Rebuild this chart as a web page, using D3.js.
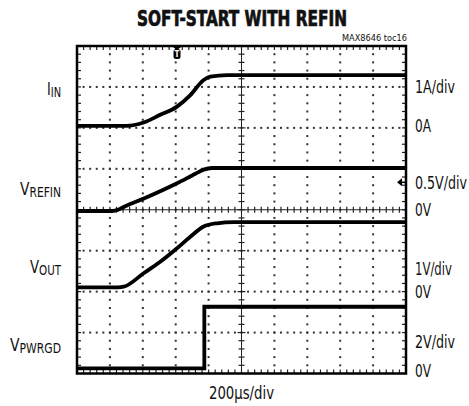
<!DOCTYPE html>
<html>
<head>
<meta charset="utf-8">
<script src="https://cdn.jsdelivr.net/npm/d3@7"></script>
<style>
  body { margin: 0; background: #fff; }
  text { font-family: "Liberation Sans Narrow", "Arial Narrow", "DejaVu Sans Condensed", sans-serif; fill: #111; }
</style>
</head>
<body>
<div id="scope"></div>
<script>
// scope settings: 200us/div, 10 x 8 divisions
var timePerDiv = 200;
var xDivs = 10, yDivs = 8;

// channel settings (units/div, ground position in divs from centre)
var channels = ["IIN", "VREFIN", "VOUT", "VPWRGD"];
var perDiv = [1, 0.5, 1, 2];
var groundDiv = [2, 0, -2, -4];
var scaleLabels = ["1A/div", "0.5V/div", "1V/div", "2V/div"];
var groundLabels = ["0A", "0V", "0V", "0V"];

// traces (time in us, value in channel units)
var iinT = [0, 300, 405, 506, 608, 689, 770, 810, 912, 2000];
var iinV = [0.05, 0.05, 0.13, 0.32, 0.52, 0.80, 1.17, 1.25, 1.29, 1.29];

var refT = [0, 215, 250, 290, 410, 605, 720, 770, 820, 2000];
var refV = [-0.015, -0.015, 0.0, 0.04, 0.14, 0.32, 0.44, 0.49, 0.51, 0.51];

var outT = [0, 249, 284, 405, 506, 608, 689, 770, 851, 953, 2000];
var outV = [0.105, 0.105, 0.12, 0.45, 0.73, 1.06, 1.34, 1.59, 1.67, 1.70, 1.70];

var pgT = [0, 774, 774, 2000];
var pgV = [0.25, 0.25, 3.26, 3.26];

var triggerT = 608;

var W = 469, H = 406;
var gLeft = 77, gRight = 406, gTop = 46, gBottom = 373.5;

var svg = d3.select("#scope").append("svg")
    .attr("width", W)
    .attr("height", H);

var x = d3.scaleLinear().domain([0, xDivs * timePerDiv]).range([gLeft, gRight]);
var y = d3.scaleLinear().domain([-yDivs / 2, yDivs / 2]).range([gBottom, gTop]);

var divW = (gRight - gLeft) / xDivs, divH = (gBottom - gTop) / yDivs;

// squeeze DejaVu Condensed down to the narrow Helvetica widths of the original
// (horizontal scale about the text's anchor x)
function fit(sel, w) {
    var ax = +sel.attr("x");
    var s = w / sel.node().getComputedTextLength();
    return sel.attr("transform", "translate(" + ax + ",0) scale(" + s + ",1) translate(" + (-ax) + ",0)");
}

// dotted grid
var grid = svg.append("g");
for (var i = 1; i < xDivs; i++) {
    if (i === xDivs / 2) continue;
    for (var j = 1; j < yDivs * 5; j++) {
        grid.append("rect")
            .attr("x", gLeft + i * divW - 1)
            .attr("y", gTop + j * divH / 5 - 1)
            .attr("width", 2).attr("height", 2)
            .attr("fill", "#333");
    }
}
for (var j = 1; j < yDivs; j++) {
    if (j === yDivs / 2) continue;
    for (var i = 1; i < xDivs * 5; i++) {
        grid.append("rect")
            .attr("x", gLeft + i * divW / 5 - 1)
            .attr("y", gTop + j * divH - 1)
            .attr("width", 2).attr("height", 2)
            .attr("fill", "#333");
    }
}

// centre crosshair with minor ticks
var cx = gLeft + divW * xDivs / 2, cy = gTop + divH * yDivs / 2;
grid.append("line").attr("x1", cx).attr("x2", cx).attr("y1", gTop).attr("y2", gBottom)
    .attr("stroke", "#222").attr("stroke-width", 1);
grid.append("line").attr("x1", gLeft).attr("x2", gRight).attr("y1", cy).attr("y2", cy)
    .attr("stroke", "#222").attr("stroke-width", 1);
for (var j = 1; j < yDivs * 5; j++) {
    var yy = gTop + j * divH / 5;
    var len = (j % 5 === 0) ? 4 : 3;
    grid.append("line").attr("x1", cx - len).attr("x2", cx + len).attr("y1", yy).attr("y2", yy)
        .attr("stroke", "#222").attr("stroke-width", 1.2);
    grid.append("line").attr("x1", gLeft).attr("x2", gLeft + 4).attr("y1", yy).attr("y2", yy)
        .attr("stroke", "#222").attr("stroke-width", 1.2);
    grid.append("line").attr("x1", gRight - 4).attr("x2", gRight).attr("y1", yy).attr("y2", yy)
        .attr("stroke", "#222").attr("stroke-width", 1.2);
}
for (var i = 1; i < xDivs * 5; i++) {
    var xx = gLeft + i * divW / 5;
    grid.append("line").attr("x1", xx).attr("x2", xx).attr("y1", cy - 3).attr("y2", cy + 3)
        .attr("stroke", "#222").attr("stroke-width", 1.2);
    grid.append("line").attr("x1", xx).attr("x2", xx).attr("y1", gTop).attr("y2", gTop + 4)
        .attr("stroke", "#222").attr("stroke-width", 1.2);
    grid.append("line").attr("x1", xx).attr("x2", xx).attr("y1", gBottom - 4).attr("y2", gBottom)
        .attr("stroke", "#222").attr("stroke-width", 1.2);
}

// traces
var traces = [[iinT, iinV], [refT, refV], [outT, outV], [pgT, pgV]];
traces.forEach(function(tr, k) {
    var pts = tr[0].map(function(t, i) { return [t, tr[1][i]]; });
    var line = d3.line()
        .x(function(d) { return x(d[0]); })
        .y(function(d) { return y(groundDiv[k] + d[1] / perDiv[k]); })
        .curve(k === 3 ? d3.curveLinear : d3.curveMonotoneX);
    svg.append("path")
        .datum(pts)
        .attr("d", line)
        .attr("fill", "none")
        .attr("stroke", "#000")
        .attr("stroke-width", 3.8);
});

// frame
svg.append("rect")
    .attr("x", gLeft).attr("y", gTop)
    .attr("width", gRight - gLeft).attr("height", gBottom - gTop)
    .attr("fill", "none").attr("stroke", "#000").attr("stroke-width", 2.5);

// trigger marker
var tx = x(triggerT);
svg.append("path")
    .attr("d", "M" + (tx - 4) + "," + (gTop + 1) + "L" + (tx + 4) + "," + (gTop + 1) + "L" + tx + "," + (gTop + 4) + "Z")
    .attr("fill", "#000");
svg.append("rect")
    .attr("x", tx - 3.5).attr("y", gTop + 3).attr("width", 7).attr("height", 10).attr("rx", 2.5)
    .attr("fill", "#000");
svg.append("text")
    .attr("x", tx).attr("y", gTop + 11)
    .attr("text-anchor", "middle")
    .style("font-size", "8px").style("font-weight", "bold")
    .style("fill", "#fff")
    .text("T");

// reference level arrow at right edge
var ay = y(groundDiv[1] + 0.67);
svg.append("path")
    .attr("d", "M" + (gRight - 9) + "," + ay + "L" + (gRight - 4) + "," + (ay - 4) + "L" + (gRight - 4) + "," + (ay + 4) + "Z")
    .attr("fill", "#000");
svg.append("line").attr("x1", gRight - 5).attr("x2", gRight).attr("y1", ay).attr("y2", ay)
    .attr("stroke", "#000").attr("stroke-width", 1.5);

// channel names (left)
var namePos = [2.95, 0.5, -1.4, -3.3];
var nameMain = ["I", "V", "V", "V"];
var nameSub = ["IN", "REFIN", "OUT", "PWRGD"];
var nameWidth = [14, 41, 31, 51];
namePos.forEach(function(p, k) {
    var t = svg.append("text")
        .attr("x", 61).attr("y", y(p) + 6)
        .attr("text-anchor", "end")
        .style("font-size", "18px");
    t.append("tspan").text(nameMain[k]);
    t.append("tspan").attr("dy", 2).style("font-size", "14px").text(nameSub[k]);
    fit(t, nameWidth[k]);
});

// scale + ground labels (right)
var scalePos = [3, 0.65, -1.45, -3.22];
var scaleWidth = [40, 52, 37, 40];
var groundOffset = [4, 6, 6, 4];
scaleLabels.forEach(function(s, k) {
    fit(svg.append("text")
        .attr("x", 415).attr("y", y(scalePos[k]) + 6)
        .style("font-size", "18px")
        .text(s), scaleWidth[k]);
    fit(svg.append("text")
        .attr("x", 415).attr("y", y(groundDiv[k]) + groundOffset[k])
        .style("font-size", "18px")
        .text(groundLabels[k]), 16);
});

// titles
fit(svg.append("text")
    .attr("x", 137).attr("y", 26.5)
    .style("font-size", "21px").style("font-weight", "bold")
    .style("stroke", "#111").style("stroke-width", 0.7)
    .text("SOFT-START WITH REFIN"), 210);

fit(svg.append("text")
    .attr("x", 342).attr("y", 41.5)
    .style("font-size", "9px")
    .text("MAX8646 toc16"), 65);

fit(svg.append("text")
    .attr("x", 209).attr("y", 399)
    .style("font-size", "18px")
    .text("200\u00b5s/div"), 65);
</script>
</body>
</html>
